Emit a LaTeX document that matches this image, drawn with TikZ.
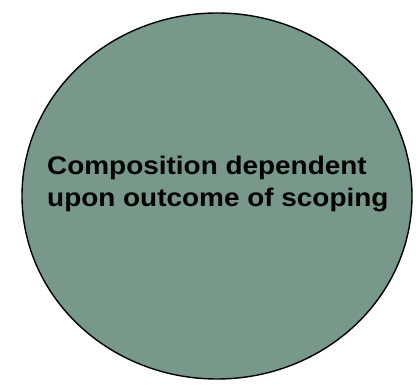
\documentclass[tikz,border=0pt]{standalone}
\usepackage{fontspec}
\setmainfont{Liberation Sans}[FakeStretch=1.095]
\usetikzlibrary{shapes.geometric}
\definecolor{scopegreen}{RGB}{120,152,140}

\begin{document}
\begin{tikzpicture}[x=1pt, y=1pt]
    \useasboundingbox (0,0) rectangle (416,389);

    % 椭圆背景 (灰绿色填充, 黑色边框)
    \node[ellipse, draw=black, line width=1.4pt, fill=scopegreen,
          minimum width=390pt, minimum height=366pt, inner sep=0pt] (scope) at (217,193) {};

    % 左对齐的粗体说明文字 (base = 最后一行基线)
    \node[anchor=base west, inner sep=0pt, align=left,
          font=\fontsize{25.5}{32}\selectfont\bfseries] (label) at (47,182)
        {Composition dependent\\upon outcome of scoping};

\end{tikzpicture}
\end{document}
